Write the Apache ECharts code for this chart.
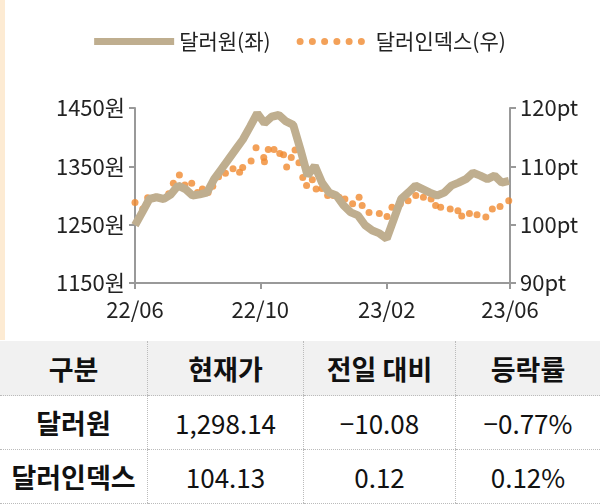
<!DOCTYPE html>
<html>
<head>
<meta charset="utf-8">
<script src="https://cdn.jsdelivr.net/npm/echarts@6/dist/echarts.min.js"></script>
<style>
    body { margin:0; width:600px; height:504px; overflow:hidden; background:#fff; font-family:"Noto Sans CJK KR","Noto Sans",sans-serif; }
    #strip { position:absolute; left:0; top:0; width:5px; height:340px; background:#fdebd3; }
    #main { position:absolute; left:0; top:0; width:600px; height:340px; }
    table { position:absolute; left:0; top:341px; width:600px; border-collapse:collapse; font-size:26px; color:#111; }
    td, th { text-align:center; border-left:1px dotted #bbb; border-bottom:1px dotted #bbb; padding:0; }
    tr td:first-child, tr th:first-child { border-left:none; }
    th { height:54px; background:#f1f1f1; font-weight:700; font-size:27px; }
    td { height:53px; font-weight:400; }
    td.name { font-weight:700; font-size:27px; }
</style>
</head>
<body>
<div id="strip"></div>
<div id="main"></div>
<table>
    <tr><th style="width:147px">구분</th><th style="width:155px">현재가</th><th style="width:151px">전일 대비</th><th>등락률</th></tr>
    <tr><td class="name">달러원</td><td>1,298.14</td><td>−10.08</td><td>−0.77%</td></tr>
    <tr><td class="name">달러인덱스</td><td>104.13</td><td>0.12</td><td>0.12%</td></tr>
</table>
<script type="text/javascript">
    // 주간 달러원 (일수, 값)
    var wonDays = [0,7,14,21,28,35,42,49,56,63,70,77,84,91,98,105,112,119,126,133,140,147,154,161,168,175,182,189,196,203,210,217,224,231,238,245,252,259,266,273,280,287,294,301,308,315,322,329,336,343,350,357,364];
    var wonVals = [1249,1271,1294,1297,1294,1302,1317,1311,1300,1302,1305,1328,1345,1362,1379,1396,1418,1441,1424,1435,1438,1427,1421,1379,1334,1351,1322,1305,1300,1283,1271,1266,1249,1240,1235,1226,1260,1294,1305,1317,1311,1305,1300,1305,1317,1322,1328,1339,1334,1328,1334,1322,1325];
    // 달러인덱스
    var dxyDays = [0,7.5,12.3,19.8,27.2,32.8,37.3,43.2,48.5,55.2,60.8,65.6,71.2,75.7,81.3,88,95.4,101.8,104.8,113,117.8,125.3,126,129.7,135.3,140.9,144.6,147.6,152.1,155.8,159.6,163.3,167,172.6,176.3,181.9,187.5,193.1,198.7,204.3,211.8,218.1,221.1,227.8,237.8,245.3,250.1,258.3,265.8,273.3,280.7,288.2,292.6,297.5,306.8,314.3,318,325.5,332.9,341.5,347.8,355.3,363.8];
    var dxyVals = [103.8,102.7,104.6,104.7,104.5,105.3,107.1,108.5,106.8,107.1,105.5,106.1,105.5,106.6,108.2,108.8,109.6,109.0,109.8,110.9,113.2,111.5,110.8,112.9,112.9,112.2,112.0,109.9,111.5,112.8,110.6,108.1,106.7,107.7,106.1,106.2,105.0,105.0,104.7,104.4,103.6,104.7,103.3,102.1,101.9,101.4,103.0,103.6,104.1,105.0,104.7,104.4,103.3,103.0,102.7,102.4,101.5,101.9,101.7,101.3,102.7,103.1,104.1];
    var tickDays = [0,122,245,365];
    var tickLabels = ['22/06','22/10','23/02','23/06'];

    function pairs(xs, ys) { return xs.map(function (x, i) { return [x, ys[i]]; }); }

    var dots = 'path://M0,4a4,4 0 1,0 8,0a4,4 0 1,0 -8,0M14,4a4,4 0 1,0 8,0a4,4 0 1,0 -8,0M28,4a4,4 0 1,0 8,0a4,4 0 1,0 -8,0M42,4a4,4 0 1,0 8,0a4,4 0 1,0 -8,0M56,4a4,4 0 1,0 8,0a4,4 0 1,0 -8,0M70,4a4,4 0 1,0 8,0a4,4 0 1,0 -8,0';
    var font = '"Noto Sans CJK KR","Noto Sans",sans-serif';
    var myChart = echarts.init(document.getElementById('main'));
    myChart.setOption({
        animation: false,
        textStyle: { fontFamily: font },
        legend: {
            top: 26, left: 'center', itemGap: 26, itemWidth: 80, itemHeight: 7,
            textStyle: { fontSize: 21, color: '#222', fontFamily: font },
            data: [
                { name: '달러원(좌)', icon: 'rect', itemStyle: { color: '#bfae8f' } },
                { name: '달러인덱스(우)', icon: dots, itemStyle: { color: '#f08a30' } }
            ]
        },
        grid: { left: 135, right: 90, top: 108, bottom: 57 },
        xAxis: {
            type: 'value', min: 0, max: 365,
            axisLine: { lineStyle: { color: '#999', width: 2 } },
            axisTick: { customValues: tickDays, length: 6, lineStyle: { color: '#999', width: 2 } },
            axisLabel: { customValues: tickDays, fontSize: 22, color: '#222', margin: 16,
                formatter: function (v) { return tickLabels[tickDays.indexOf(v)]; } },
            splitLine: { show: false }
        },
        yAxis: [{
            type: 'value', min: 1150, max: 1450, interval: 100,
            axisLine: { show: true, lineStyle: { color: '#999', width: 2 } },
            axisTick: { show: true, length: 6, lineStyle: { color: '#999', width: 2 } },
            axisLabel: { fontSize: 22, color: '#222', margin: 10, formatter: function (v) { return v + '원'; } },
            splitLine: { show: false }
        }, {
            type: 'value', min: 90, max: 120, interval: 10,
            axisLine: { show: true, lineStyle: { color: '#999', width: 2 } },
            axisTick: { show: true, length: 6, lineStyle: { color: '#999', width: 2 } },
            axisLabel: { fontSize: 22, color: '#222', margin: 10, formatter: function (v) { return v + 'pt'; } },
            splitLine: { show: false }
        }],
        series: [{
            name: '달러원(좌)', type: 'line', yAxisIndex: 0, showSymbol: false,
            data: pairs(wonDays, wonVals),
            lineStyle: { color: '#bfae8f', width: 8 }, itemStyle: { color: '#bfae8f' }
        }, {
            name: '달러인덱스(우)', type: 'scatter', yAxisIndex: 1, symbolSize: 7,
            data: pairs(dxyDays, dxyVals),
            itemStyle: { color: '#f08a30' }
        }]
    });
</script>
</body>
</html>
